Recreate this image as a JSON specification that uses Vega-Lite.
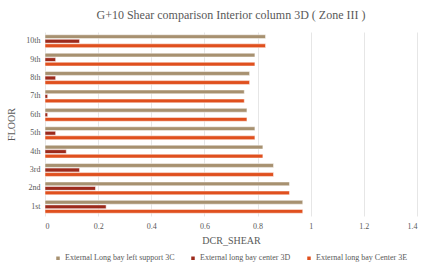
{
  "$schema": "https://vega.github.io/schema/vega-lite/v6.json",
  "width": 421,
  "height": 267,
  "autosize": {"type": "fit", "contains": "padding"},
  "padding": {"left": 6, "right": 4, "top": 9, "bottom": 3},
  "background": "white",
  "title": {
    "text": "G+10 Shear comparison  Interior column 3D ( Zone III )",
    "font": "Liberation Serif",
    "fontSize": 12,
    "fontWeight": "normal",
    "color": "#595959",
    "anchor": "middle",
    "offset": 10
  },
  "data": {
    "values": [
      {"floor": "10th", "series": "External Long bay left support 3C", "value": 0.83},
      {"floor": "10th", "series": "External long bay center 3D", "value": 0.13},
      {"floor": "10th", "series": "External long bay Center 3E", "value": 0.83},
      {"floor": "9th", "series": "External Long bay left support 3C", "value": 0.79},
      {"floor": "9th", "series": "External long bay center 3D", "value": 0.04},
      {"floor": "9th", "series": "External long bay Center 3E", "value": 0.79},
      {"floor": "8th", "series": "External Long bay left support 3C", "value": 0.77},
      {"floor": "8th", "series": "External long bay center 3D", "value": 0.04},
      {"floor": "8th", "series": "External long bay Center 3E", "value": 0.77},
      {"floor": "7th", "series": "External Long bay left support 3C", "value": 0.75},
      {"floor": "7th", "series": "External long bay center 3D", "value": 0.01},
      {"floor": "7th", "series": "External long bay Center 3E", "value": 0.75},
      {"floor": "6th", "series": "External Long bay left support 3C", "value": 0.76},
      {"floor": "6th", "series": "External long bay center 3D", "value": 0.01},
      {"floor": "6th", "series": "External long bay Center 3E", "value": 0.76},
      {"floor": "5th", "series": "External Long bay left support 3C", "value": 0.79},
      {"floor": "5th", "series": "External long bay center 3D", "value": 0.04},
      {"floor": "5th", "series": "External long bay Center 3E", "value": 0.79},
      {"floor": "4th", "series": "External Long bay left support 3C", "value": 0.82},
      {"floor": "4th", "series": "External long bay center 3D", "value": 0.08},
      {"floor": "4th", "series": "External long bay Center 3E", "value": 0.82},
      {"floor": "3rd", "series": "External Long bay left support 3C", "value": 0.86},
      {"floor": "3rd", "series": "External long bay center 3D", "value": 0.13},
      {"floor": "3rd", "series": "External long bay Center 3E", "value": 0.86},
      {"floor": "2nd", "series": "External Long bay left support 3C", "value": 0.92},
      {"floor": "2nd", "series": "External long bay center 3D", "value": 0.19},
      {"floor": "2nd", "series": "External long bay Center 3E", "value": 0.92},
      {"floor": "1st", "series": "External Long bay left support 3C", "value": 0.97},
      {"floor": "1st", "series": "External long bay center 3D", "value": 0.23},
      {"floor": "1st", "series": "External long bay Center 3E", "value": 0.97}
    ]
  },
  "mark": {"type": "bar", "stroke": "white", "strokeWidth": 0.5},
  "encoding": {
    "y": {
      "field": "floor",
      "type": "nominal",
      "sort": ["10th", "9th", "8th", "7th", "6th", "5th", "4th", "3rd", "2nd", "1st"],
      "scale": {"paddingInner": 0.3, "paddingOuter": 0.15},
      "axis": {
        "title": "FLOOR",
        "titleFont": "Liberation Serif",
        "titleFontSize": 10,
        "titleFontWeight": "normal",
        "titleColor": "#595959",
        "titlePadding": 9,
        "labelFont": "Liberation Serif",
        "labelFontSize": 8,
        "labelColor": "#595959",
        "labelPadding": 5,
        "domain": false,
        "ticks": false,
        "grid": false
      }
    },
    "yOffset": {
      "field": "series",
      "type": "nominal",
      "sort": ["External Long bay left support 3C", "External long bay center 3D", "External long bay Center 3E"],
      "scale": {"paddingInner": 0.15}
    },
    "x": {
      "field": "value",
      "type": "quantitative",
      "scale": {"domain": [0, 1.4], "nice": false},
      "axis": {
        "title": "DCR_SHEAR",
        "titleFont": "Liberation Serif",
        "titleFontSize": 10,
        "titleFontWeight": "normal",
        "titleColor": "#595959",
        "titlePadding": 5,
        "labelFont": "Liberation Serif",
        "labelFontSize": 8,
        "labelColor": "#595959",
        "labelPadding": 6,
        "format": "~g",
        "values": [0, 0.2, 0.4, 0.6, 0.8, 1, 1.2, 1.4],
        "domain": false,
        "ticks": false,
        "grid": true,
        "gridColor": "#e6e6e6",
        "gridWidth": 1
      }
    },
    "color": {
      "field": "series",
      "type": "nominal",
      "sort": ["External Long bay left support 3C", "External long bay center 3D", "External long bay Center 3E"],
      "scale": {
        "domain": ["External Long bay left support 3C", "External long bay center 3D", "External long bay Center 3E"],
        "range": ["#a79170", "#9c2a1c", "#e0501e"]
      },
      "legend": {
        "orient": "bottom",
        "direction": "horizontal",
        "columns": 3,
        "title": null,
        "symbolType": "square",
        "symbolSize": 25,
        "labelFont": "Liberation Serif",
        "labelFontSize": 8,
        "labelColor": "#595959",
        "labelLimit": 300,
        "labelOffset": 3,
        "columnPadding": 12,
        "offset": 9
      }
    }
  },
  "config": {
    "view": {"stroke": null},
    "legend": {"layout": {"bottom": {"anchor": "middle"}}}
  }
}
